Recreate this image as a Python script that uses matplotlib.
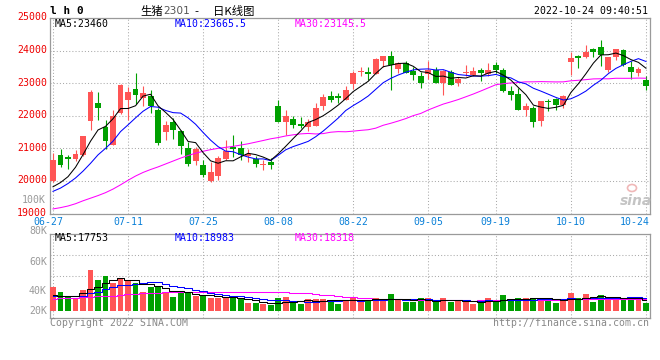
import numpy as np
import matplotlib
matplotlib.use("Agg")
import matplotlib.pyplot as plt
from matplotlib.transforms import ScaledTranslation
from matplotlib.patches import Ellipse

# ---------------- data ----------------
dates = ["06-27", "06-28", "06-29", "06-30",
         "07-01", "07-04", "07-05", "07-06", "07-07", "07-08",
         "07-11", "07-12", "07-13", "07-14", "07-15",
         "07-18", "07-19", "07-20", "07-21", "07-22",
         "07-25", "07-26", "07-27", "07-28", "07-29",
         "08-01", "08-02", "08-03", "08-04", "08-05",
         "08-08", "08-09", "08-10", "08-11", "08-12",
         "08-15", "08-16", "08-17", "08-18", "08-19",
         "08-22", "08-23", "08-24", "08-25", "08-26",
         "08-29", "08-30", "08-31", "09-01", "09-02",
         "09-05", "09-06", "09-07", "09-08", "09-09",
         "09-13", "09-14", "09-15", "09-16",
         "09-19", "09-20", "09-21", "09-22", "09-23",
         "09-26", "09-27", "09-28", "09-29", "09-30",
         "10-10", "10-11", "10-12", "10-13", "10-14",
         "10-17", "10-18", "10-19", "10-20", "10-21",
         "10-24"]

opens = [19990, 20805, 20725, 20685, 20805, 21845, 22380, 21645, 21115, 22080,
         22490, 22815, 22540, 22610, 22185, 21490, 21795, 21520, 21020, 20605,
         20500, 20010, 20145, 20675, 21040, 21010, 20755, 20675, 20480, 20570,
         22285, 21815, 21915, 21735, 21640, 21690, 22285, 22605, 22605, 22485,
         22980, 23335, 23355, 23285, 23695, 23835, 23450, 23610, 23380, 23225,
         23285, 23410, 23000, 23355, 23000, 23305, 23255, 23410, 23275, 23560,
         23410, 22765, 22675, 22185, 22235, 21825, 22460, 22510, 22335, 23635,
         23815, 23815, 24040, 24100, 23410, 23815, 24020, 23490, 23325, 23100]
highs = [20860, 20990, 20805, 20960, 21390, 22775, 22715, 21880, 22165, 22970,
         22880, 23305, 22920, 22775, 22235, 21825, 21930, 21550, 21185, 21040,
         20655, 20570, 20765, 21245, 21410, 21235, 20980, 20755, 20635, 20705,
         22470, 22165, 21990, 21970, 21885, 22380, 22660, 22760, 22690, 22900,
         23380, 23490, 23490, 23765, 23835, 24000, 23635, 23685, 23510, 23355,
         23665, 23510, 23410, 23410, 23175, 23560, 23510, 23480, 23610, 23635,
         23480, 22920, 22845, 22390, 22305, 22460, 22510, 22540, 22645, 23970,
         23865, 24175, 24070, 24325, 23815, 24050, 24040, 23665, 23490, 23205]
lows = [19970, 20430, 20370, 20600, 20755, 21570, 21880, 20980, 21115, 22060,
        21880, 22355, 22285, 22080, 21095, 21265, 21295, 20840, 20470, 20500,
        20115, 19960, 20020, 20655, 20725, 20655, 20595, 20420, 20325, 20380,
        21795, 21420, 21610, 21630, 21540, 21690, 22175, 22430, 22400, 22470,
        22825, 23205, 23100, 23275, 23510, 22795, 23305, 23305, 23100, 22865,
        23120, 23020, 22645, 22930, 22900, 23235, 23235, 23070, 23235, 23325,
        22715, 22490, 22165, 22000, 21645, 21675, 22135, 22185, 22235, 23255,
        23460, 23765, 23815, 23540, 23355, 23715, 23530, 23120, 23205, 22795]
closes = [20655, 20500, 20665, 20825, 21390, 22715, 22225, 21215, 22000, 22950,
          22725, 22645, 22695, 22285, 21165, 21725, 21550, 21080, 20530, 20990,
          20195, 20285, 20715, 20910, 20980, 20805, 20825, 20520, 20530, 20480,
          21795, 21980, 21715, 21690, 21795, 22235, 22570, 22485, 22545, 22790,
          23325, 23355, 23275, 23735, 23835, 23560, 23610, 23325, 23255, 23020,
          23410, 23020, 23380, 22930, 23135, 23325, 23380, 23305, 23410, 23390,
          22745, 22625, 22165, 22305, 21795, 22440, 22420, 22335, 22610, 23765,
          23785, 23950, 23970, 23865, 23795, 24040, 23560, 23355, 23440, 22900]
volumes = [29500, 24700, 21600, 18700, 26700, 45700, 36200, 40000, 33600, 37100,
           35900, 33600, 24700, 29800, 30200, 24700, 20300, 24700, 24100, 21600,
           21600, 19400, 19400, 19700, 19700, 18200, 14300, 14300, 13300, 12700,
           19400, 20000, 14300, 13900, 18200, 18200, 18200, 17500, 13300, 17800,
           19700, 17800, 17800, 19000, 16500, 22800, 17100, 15500, 15500, 19000,
           19000, 15500, 19000, 15500, 17100, 17100, 13300, 16500, 19000, 15500,
           21900, 17100, 19700, 19700, 19000, 19700, 17100, 14300, 17100, 24100,
           19800, 23000, 15700, 22300, 20300, 17800, 19700, 18700, 17800, 14300]

# moving-average values before enough history exists in the window
ma5_head = [19820, 19950, 20130, 20420]
ma10_head = [19680, 19780, 19920, 20090, 20300, 20540, 20800, 21000, 21220]
ma30_head = [19140, 19180, 19230, 19300, 19390, 19470, 19550, 19640, 19750, 19880,
             20020, 20150, 20260, 20350, 20430, 20520, 20610, 20700, 20780, 20850,
             20910, 20960, 21000, 21030, 21060, 21100, 21140, 21190, 21240]
vma5_head = [21900, 21300, 20900, 21600]
vma10_head = [20900, 20900, 21000, 21000, 21600, 23800, 25500, 27500, 29500]
vma30_head = [18700, 19000, 19300, 19700, 20100, 20500, 20900, 21300, 21700, 22200,
              22700, 23200, 23700, 24100, 24400, 24600, 24800, 24900, 25000, 25100,
              25100, 25100, 25100, 25100, 25100, 25100, 25100, 25100, 25200]

tick_dates = ["06-27", "07-11", "07-25", "08-08", "08-22", "09-05", "09-19", "10-10", "10-24"]
price_ticks = [19000, 20000, 21000, 22000, 23000, 24000, 25000]
vol_ticks = [20000, 40000, 60000, 80000]
vol_tick_labels = ["20K", "40K", "60K", "80K"]
vol_grid = [40000, 60000]

legend_main = ["MA5:23460", "MA10:23665.5", "MA30:23145.5"]
legend_vol = ["MA5:17753", "MA10:18983", "MA30:18318"]

# ---------------- style ----------------
W, H = 660, 360
RED = "#ff5555"
GREEN = "#00a000"
RED_TXT = "#ee0000"
DATE_BLUE = "#0a80d8"
GRAY_TXT = "#999999"
GRID = "#aaaaaa"
BORDER = "#9a9a9a"
MONO = "DejaVu Sans Mono"
FS = 7.1
VOL_BASE = 7000
MIN_BODY = 35
BODY_W = 0.78
LINE_W = 0.75

plt.rcParams["font.family"] = ["DejaVu Sans Mono", "Noto Sans CJK SC"]

fig = plt.figure(figsize=(W / 100, H / 100), dpi=100)
fig.patch.set_facecolor("white")


def box(x0, y0, x1, y1):
    return [x0 / W, 1 - y1 / H, (x1 - x0) / W, (y1 - y0) / H]


def ftext(x, y, s, **kw):
    return fig.text(x / W, 1 - y / H, s, **kw)


ax = fig.add_axes(box(50, 18, 650, 213.5))
axv = fig.add_axes(box(50, 234.3, 650, 318.3))

x = np.arange(len(dates))
o = np.array(opens, float)
hi = np.array(highs, float)
lo = np.array(lows, float)
c = np.array(closes, float)
v = np.array(volumes, float)
colors = np.where(c >= o, RED, GREEN)


def moving(vals, n, head):
    vals = np.asarray(vals, float)
    out = list(head)
    for i in range(len(head), len(vals)):
        out.append(vals[i - n + 1:i + 1].mean())
    return np.array(out)


ma5 = moving(c, 5, ma5_head)
ma10 = moving(c, 10, ma10_head)
ma30 = moving(c, 30, ma30_head)
vma5 = moving(v, 5, vma5_head)
vma10 = moving(v, 10, vma10_head)
vma30 = moving(v, 30, vma30_head)

tick_idx = [dates.index(d) for d in tick_dates]
xlim = (-0.4, 79.54)

# ---- main panel ----
ax.vlines(x, lo, hi, colors=colors, linewidth=0.8, zorder=3)
ax.bar(x, np.maximum(np.abs(c - o), MIN_BODY), bottom=np.minimum(o, c),
       width=BODY_W, color=colors, linewidth=0, zorder=4)
ax.plot(x, ma30, color="#ff00ff", lw=LINE_W, zorder=5)
ax.plot(x, ma10, color="#0000ff", lw=LINE_W, zorder=5)
ax.plot(x, ma5, color="#000000", lw=LINE_W, zorder=6)

ax.set_xlim(*xlim)
ax.set_ylim(price_ticks[0], price_ticks[-1])
ax.set_yticks(price_ticks)
ax.set_yticklabels([str(t) for t in price_ticks], color=RED_TXT, fontsize=FS, family=MONO)
ax.set_xticks(tick_idx)
ax.set_xticklabels(tick_dates, color=DATE_BLUE, fontsize=FS, family=MONO)
ax.tick_params(length=0, pad=2.2)
ax.tick_params(axis="x", pad=2.5)
ax.grid(True, color=GRID, linestyle=(0, (1, 2)), linewidth=0.75, zorder=0)
ax.set_axisbelow(True)
for s in ax.spines.values():
    s.set_color(BORDER)
    s.set_linewidth(0.9)

# y label offsets (px)
for lab in ax.get_yticklabels():
    dy = 1.5
    if lab.get_text() == str(price_ticks[-1]):
        dy = 2.5
    lab.set_transform(lab.get_transform() + ScaledTranslation(0, dy / 100, fig.dpi_scale_trans))
xl = ax.get_xticklabels()
xl[0].set_transform(xl[0].get_transform() + ScaledTranslation(-4.5 / 100, 0, fig.dpi_scale_trans))
xl[-1].set_horizontalalignment("right")
xl[-1].set_transform(xl[-1].get_transform() + ScaledTranslation(3.5 / 100, 0, fig.dpi_scale_trans))

# ---- volume panel ----
axv.bar(x, v - VOL_BASE, bottom=VOL_BASE, width=BODY_W, color=colors, linewidth=0, zorder=3)
axv.plot(x, vma30, color="#ff00ff", lw=LINE_W, drawstyle="steps-mid", zorder=5)
axv.plot(x, vma10, color="#0000ff", lw=LINE_W, drawstyle="steps-mid", zorder=5)
axv.plot(x, vma5, color="#000000", lw=LINE_W, drawstyle="steps-mid", zorder=6)
axv.set_xlim(*xlim)
axv.set_ylim(0, vol_ticks[-1])
axv.set_xticks(tick_idx)
axv.set_xticklabels([])
axv.xaxis.grid(True, color=GRID, linestyle=(0, (1, 2)), linewidth=0.75, zorder=0)
for g in vol_grid:
    axv.axhline(g, color=GRID, linestyle=(0, (1, 2)), linewidth=0.75, zorder=0)
axv.set_axisbelow(True)
axv.set_yticks(vol_ticks)
axv.set_yticklabels(vol_tick_labels, color=GRAY_TXT, fontsize=FS, family=MONO)
axv.tick_params(length=0, pad=2.2)
vol_label_shift = {"80K": 3.8, "60K": -6.0, "40K": -14.0, "20K": -12.4}
for lab in axv.get_yticklabels():
    lab.set_transform(lab.get_transform() +
                      ScaledTranslation(0, vol_label_shift[lab.get_text()] / 100, fig.dpi_scale_trans))
for s in axv.spines.values():
    s.set_color(BORDER)
    s.set_linewidth(0.9)

# ---- texts ----
leg_colors = ["#000000", "#0000ff", "#ff00ff"]
leg_x = [55, 175, 295]
for s, col, lx in zip(legend_main, leg_colors, leg_x):
    ftext(lx, 24.3, s, color=col, fontsize=FS, family=MONO, va="center", ha="left")
for s, col, lx in zip(legend_vol, leg_colors, leg_x):
    ftext(lx, 238.3, s, color=col, fontsize=FS, family=MONO, va="center", ha="left")

ftext(50, 11.5, "l h 0", color="black", fontsize=8, family=MONO, weight="bold", va="center", ha="left")
ftext(140, 11.5, "生猪", color="black", fontsize=8.2, family=["Noto Sans CJK SC"], va="center", ha="left")
ftext(163, 11.5, "2301", color="#555555", fontsize=7.6, family=["DejaVu Sans"], va="center", ha="left")
ftext(196, 11.5, "-", color="black", fontsize=8, family=["DejaVu Sans"], va="center", ha="center")
ftext(213, 11.5, "日K线图", color="black", fontsize=8.2, family=["Noto Sans CJK SC"], va="center", ha="left")
ftext(648.5, 11.5, "2022-10-24 09:40:51", color="black", fontsize=FS, family=MONO, va="center", ha="right")

ftext(46, 200.3, "100K", color=GRAY_TXT, fontsize=FS, family=MONO, va="center", ha="right")
ftext(50, 323.5, "Copyright 2022 SINA.COM", color="#888888", fontsize=FS, family=MONO, va="center", ha="left")
ftext(649, 323.5, "http://finance.sina.com.cn", color="#888888", fontsize=FS, family=MONO, va="center", ha="right")

# sina watermark
ftext(636, 201, "sina", color="#c4c4c4", fontsize=10, family=["DejaVu Sans"], style="italic",
      weight="bold", va="center", ha="center")
fig.add_artist(Ellipse((632 / W, 1 - 188 / H), 9 / W, 7 / H, transform=fig.transFigure,
                       facecolor="none", edgecolor="#f0b8b8", linewidth=1.2))

fig.savefig("out.png", dpi=100, facecolor="white")
